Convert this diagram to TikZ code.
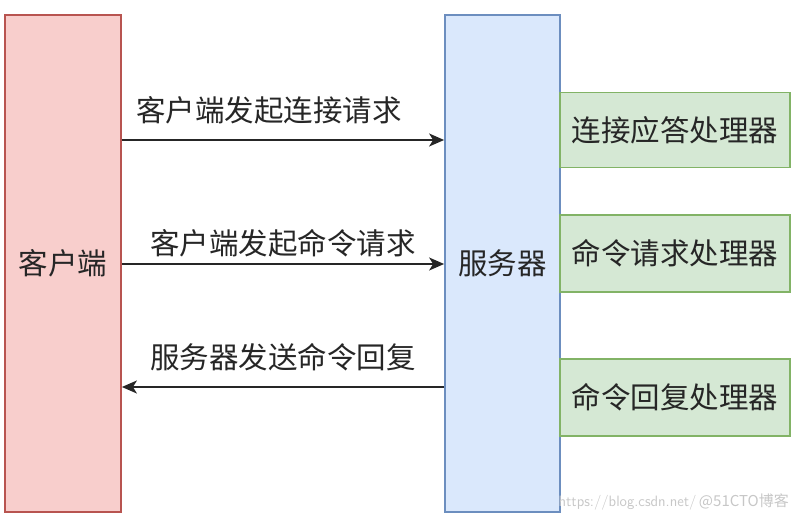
\documentclass[tikz,border=0pt]{standalone}
\usepackage{fontspec}
\newfontfamily\cjk{Noto Sans CJK SC}
\usetikzlibrary{arrows.meta}
\definecolor{redfill}{HTML}{F8CECC}
\definecolor{redline}{HTML}{B85450}
\definecolor{bluefill}{HTML}{DAE8FC}
\definecolor{blueline}{HTML}{6C8EBF}
\definecolor{greenfill}{HTML}{D5E8D4}
\definecolor{greenline}{HTML}{82B366}
\tikzset{
  box/.style={draw, line width=1.8pt, inner sep=0pt, font=\cjk\fontsize{29.5}{32}\selectfont, text=black!85},
  lbl/.style={inner sep=0pt, font=\cjk\fontsize{29.5}{32}\selectfont, text=black!85},
  conn/.style={line width=1.8pt, draw=black!85, -{Stealth[length=15pt,width=13pt,inset=4pt]}},
}
\begin{document}
\begin{tikzpicture}[x=1pt,y=-1pt]
\useasboundingbox (0,0) rectangle (798,521);
\node[box, fill=redfill, draw=redline, minimum width=116pt, minimum height=497pt] (client) at (63,263.5) {客户端};
\node[box, fill=bluefill, draw=blueline, minimum width=115pt, minimum height=497pt] (server) at (502.5,263.5) {服务器};
\node[box, fill=greenfill, draw=greenline, minimum width=230pt, minimum height=75pt] (h1) at (675,130) {连接应答处理器};
\node[box, fill=greenfill, draw=greenline, minimum width=230pt, minimum height=77pt] (h2) at (675,253.5) {命令请求处理器};
\node[box, fill=greenfill, draw=greenline, minimum width=230pt, minimum height=77pt] (h3) at (675,397.5) {命令回复处理器};
\coordinate (a1s) at (client.east |- 0,140);
\coordinate (a1e) at (server.west |- 0,140);
\coordinate (a2s) at (client.east |- 0,264);
\coordinate (a2e) at (server.west |- 0,264);
\coordinate (a3s) at (server.west |- 0,387);
\coordinate (a3e) at (client.east |- 0,387);
\draw[conn] (a1s) -- (a1e);
\draw[conn] (a2s) -- (a2e);
\draw[conn] (a3s) -- (a3e);
\node[lbl] (l1) at (269,110) {客户端发起连接请求};
\node[lbl] (l2) at (283,243) {客户端发起命令请求};
\node[lbl] (l3) at (283,357) {服务器发送命令回复};
\node[inner sep=0pt, anchor=east, text=black!22, font=\fontsize{15}{16}\selectfont\sffamily] (wm) at (789,502) {https://blog.csdn.net/\,{\cjk @51CTO博客}};
\end{tikzpicture}
\end{document}
